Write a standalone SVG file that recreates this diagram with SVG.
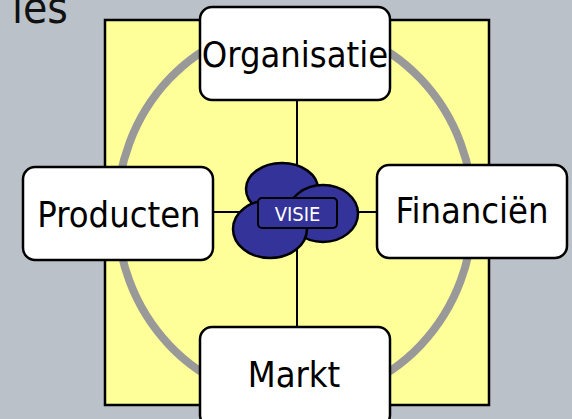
<svg xmlns="http://www.w3.org/2000/svg" width="572" height="419" viewBox="0 0 572 419">
<style>
.box{fill:#fff;stroke:#000;stroke-width:2.5}
.lbl{font-family:"DejaVu Sans Condensed","DejaVu Sans",sans-serif;font-size:36px;fill:#000;text-anchor:middle}
.blob{fill:#333399;stroke:#000;stroke-width:2.5}
.conn{stroke:#000;stroke-width:2;fill:none}
</style>
<rect width="572" height="419" fill="#BBC1C9"/>
<text x="68" y="23" font-family="DejaVu Sans Condensed, DejaVu Sans, sans-serif" font-size="44" fill="#111" text-anchor="end">ies</text>
<rect x="105" y="20" width="384" height="385" fill="#FFFF99" stroke="#000" stroke-width="2.5"/>
<ellipse cx="295" cy="212" rx="178" ry="188" fill="none" stroke="#999" stroke-width="8"/>
<g id="connectors">
<line class="conn" x1="297" y1="100" x2="297" y2="327"/>
<line class="conn" x1="213" y1="212" x2="377" y2="212"/>
</g>
<g id="visie">
<ellipse class="blob" cx="282" cy="189" rx="36" ry="26"/>
<ellipse class="blob" cx="323" cy="213.5" rx="35" ry="28.5"/>
<ellipse class="blob" cx="270" cy="229" rx="37" ry="29"/>
<rect x="258" y="198" width="79" height="30" rx="4" fill="#333399" stroke="#000" stroke-width="2"/>
<text x="297.5" y="221" font-family="DejaVu Sans Condensed, DejaVu Sans, sans-serif" font-size="20" fill="#fff" text-anchor="middle">VISIE</text>
</g>
<g id="organisatie">
<rect class="box" x="200" y="7" width="190" height="93" rx="12"/>
<text class="lbl" x="295" y="67">Organisatie</text>
</g>
<g id="producten">
<rect class="box" x="23" y="167" width="190" height="93" rx="12"/>
<text class="lbl" x="119" y="227">Producten</text>
</g>
<g id="financien">
<rect class="box" x="377" y="165" width="190" height="93" rx="12"/>
<text class="lbl" x="472" y="223">Financiën</text>
</g>
<g id="markt">
<rect class="box" x="200" y="327" width="190" height="100" rx="12"/>
<text class="lbl" x="294" y="387">Markt</text>
</g>
</svg>
